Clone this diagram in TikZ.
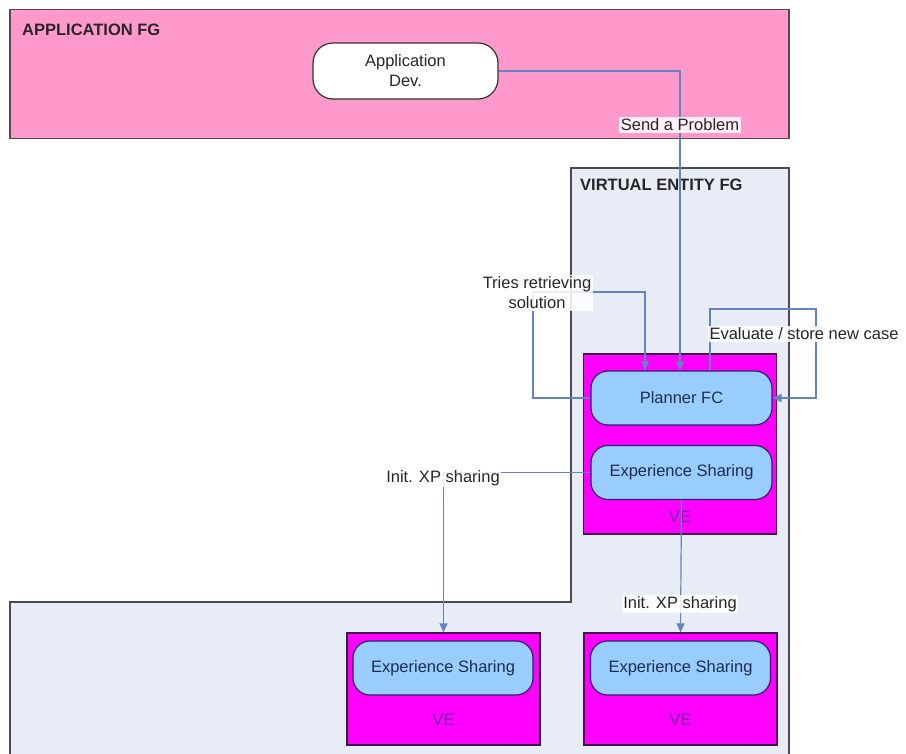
\documentclass[tikz,border=0pt]{standalone}
\usepackage{fontspec}
\setmainfont{Liberation Sans}
\usetikzlibrary{arrows.meta}

% palette
\definecolor{appfill}{RGB}{255,153,204}
\definecolor{vefgfill}{RGB}{232,236,246}
\definecolor{groupline}{RGB}{75,75,80}
\definecolor{vefill}{RGB}{255,0,255}
\definecolor{veline}{RGB}{60,25,70}
\definecolor{fcfill}{RGB}{153,204,255}
\definecolor{fcline}{RGB}{45,35,95}
\definecolor{fctext}{RGB}{30,45,75}
\definecolor{vetext}{RGB}{115,40,160}
\definecolor{wire}{RGB}{100,132,192}

\newcommand{\plainfont}{\fontsize{16.5}{20}\selectfont}
\newcommand{\titlefont}{\fontsize{16.5}{20}\selectfont\bfseries}

\begin{document}
\begin{tikzpicture}[x=1pt,y=-1pt,
  group/.style={draw=groupline,line width=1.6pt},
  grouptitle/.style={anchor=west,inner sep=0pt,font=\titlefont,text=black!85},
  vebox/.style={draw=veline,line width=1.2pt,fill=vefill,minimum width=193pt,inner sep=0pt},
  vetag/.style={font=\plainfont,text=vetext,inner sep=0pt},
  fcbox/.style={draw=fcline,line width=1.2pt,fill=fcfill,rounded corners=17pt,
    minimum width=181pt,minimum height=54pt,font=\plainfont,text=fctext,inner sep=0pt},
  devbox/.style={draw=black!80,line width=1.2pt,fill=white,rounded corners=20pt,
    minimum width=185pt,minimum height=56pt,font=\plainfont,text=black!85,align=center,inner sep=0pt},
  wirestyle/.style={draw=wire,line width=1.2pt,-{Triangle[length=9pt,width=8pt]}},
  tag/.style={fill=white,fill opacity=0.85,text opacity=1,inner sep=1.5pt,
    font=\plainfont,text=black!85,align=center}]

\useasboundingbox (0,0) rectangle (906,754);

\begin{scope}
\clip (0,0) rectangle (906,754);

% functional groups
\node[group,fill=appfill,minimum width=779pt,minimum height=129pt,inner sep=0pt] (appfg) at (399.5,74) {};
\node[grouptitle] (appfgtitle) at (22,30) {APPLICATION FG};

\draw[group,fill=vefgfill] (571,168) -- (789,168) -- (789,765) -- (10,765) -- (10,602) -- (571,602) -- cycle;
\node[grouptitle] (vefgtitle) at (580,185) {VIRTUAL ENTITY FG};

% application developer
\node[devbox] (appdev) at (405.5,71) {Application\\Dev.};

% virtual entities
\node[vebox,minimum height=180pt] (ve1) at (680,444) {};
\node[vebox,minimum height=112pt] (ve2) at (443.5,689) {};
\node[vebox,minimum height=112pt] (ve3) at (680.5,689) {};

\node[fcbox] (planner) at (681.5,398) {Planner FC};
\node[fcbox] (es1) at (681.5,472.5) {Experience Sharing};
\node[fcbox,minimum width=180pt] (es2) at (443,668) {Experience Sharing};
\node[fcbox,minimum width=180pt] (es3) at (680.5,668) {Experience Sharing};

\node[vetag] (ve1tag) at (680,517) {VE};
\node[vetag] (ve2tag) at (443.5,720) {VE};
\node[vetag] (ve3tag) at (680.5,720) {VE};

% connectors
\coordinate (sendx) at (680,0);
\draw[wirestyle] (appdev.east) -| (sendx |- planner.north);

\coordinate (tryl) at (533,292);
\coordinate (tryr) at (645,292);
\draw[wirestyle] (planner.west) -| (tryl) -- (tryr) -- (tryr |- planner.north);

\coordinate (evl) at (710,309);
\coordinate (evr) at (816,309);
\draw[wirestyle] (evl |- planner.north) -- (evl) -- (evr) |- (planner.east);

\draw[wirestyle] (es1.west) -| (ve2.north);
\draw[wirestyle] (es1.south) -- (ve3.north);

% connector labels
\node[tag] (sendtag) at (680,125) {Send a Problem};
\node[tag] (trytag) at (537,293) {Tries retrieving\\solution};
\node[tag] (evaltag) at (804,334) {Evaluate / store new case};
\node[tag] (xp1tag) at (443,478) {Init. XP sharing};
\node[tag] (xp2tag) at (680,604) {Init. XP sharing};
\end{scope}
\end{tikzpicture}
\end{document}
